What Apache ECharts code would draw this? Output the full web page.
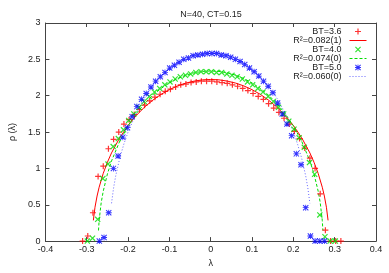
<!DOCTYPE html>
<html><head><meta charset="utf-8">
<script src="https://cdn.jsdelivr.net/npm/echarts@6/dist/echarts.min.js"></script>
<style>html,body{margin:0;padding:0;background:#fff}#c{width:389px;height:273px}</style>
</head><body><div id="c"></div>
<script>
// ---- data ----
const titleText = 'N=40, CT=0.15';
const xTicks = [-0.4,-0.3,-0.2,-0.1,0,0.1,0.2,0.3,0.4];
const yTicks = [0,0.5,1,1.5,2,2.5,3];

const redLam = [-0.31,-0.2975,-0.285,-0.2725,-0.26,-0.2475,-0.235,-0.2225,-0.21,-0.1975,-0.185,-0.1725,-0.16,-0.1475,-0.135,-0.1225,-0.11,-0.0975,-0.085,-0.0725,-0.06,-0.0475,-0.035,-0.0225,-0.01,0.0025,0.015,0.0275,0.04,0.0525,0.065,0.0775,0.09,0.1025,0.115,0.1275,0.14,0.1525,0.165,0.1775,0.19,0.2025,0.215,0.2275,0.24,0.2525,0.265,0.2775,0.29,0.3025,0.315];
const redRho = [0,0.07,0.39,0.89,1.03,1.27,1.40,1.50,1.61,1.67,1.74,1.81,1.87,1.93,1.98,2.02,2.06,2.09,2.12,2.15,2.16,2.18,2.19,2.20,2.20,2.20,2.19,2.18,2.17,2.15,2.13,2.10,2.07,2.03,1.99,1.95,1.89,1.83,1.77,1.69,1.61,1.51,1.41,1.28,1.14,1.00,0.65,0.15,0,0,0];

const greenLam = [-0.2985,-0.286,-0.2735,-0.261,-0.2485,-0.236,-0.2235,-0.211,-0.1985,-0.186,-0.1735,-0.161,-0.1485,-0.136,-0.1235,-0.111,-0.0985,-0.086,-0.0735,-0.061,-0.0485,-0.036,-0.0235,-0.011,0.0015,0.014,0.0265,0.039,0.0515,0.064,0.0765,0.089,0.1015,0.114,0.1265,0.139,0.1515,0.164,0.1765,0.189,0.2015,0.214,0.2265,0.239,0.2515,0.264,0.2765,0.289,0.3015];
const greenRho = [0,0.04,0.30,0.86,1.06,1.30,1.41,1.53,1.66,1.75,1.84,1.92,1.99,2.05,2.10,2.15,2.19,2.23,2.26,2.28,2.30,2.32,2.33,2.33,2.33,2.32,2.32,2.30,2.28,2.26,2.23,2.19,2.15,2.10,2.05,1.99,1.92,1.84,1.75,1.65,1.54,1.42,1.29,1.08,0.92,0.36,0.06,0,0];

const blueLam = [-0.2695,-0.25815,-0.2468,-0.23545,-0.2241,-0.21275,-0.2014,-0.19005,-0.1787,-0.16735,-0.156,-0.14465,-0.1333,-0.12195,-0.1106,-0.09925,-0.0879,-0.07655,-0.0652,-0.05385,-0.0425,-0.03115,-0.0198,-0.00845,0.0029,0.01425,0.0256,0.03695,0.0483,0.05965,0.071,0.08235,0.0937,0.10505,0.1164,0.12775,0.1391,0.15045,0.1618,0.17315,0.1845,0.19585,0.2072,0.21855,0.2299,0.24125,0.2526,0.26395,0.2753];
const blueRho = [0,0.05,0.39,1.00,1.17,1.43,1.56,1.71,1.85,1.95,2.03,2.12,2.20,2.26,2.32,2.38,2.42,2.46,2.50,2.52,2.55,2.56,2.57,2.58,2.58,2.58,2.56,2.55,2.53,2.50,2.47,2.43,2.38,2.33,2.27,2.20,2.13,2.04,1.90,1.75,1.61,1.45,1.20,1.05,0.46,0.07,0,0,0];

const redFitLam = [-0.284,-0.28,-0.275,-0.27,-0.26,-0.25,-0.24,-0.22,-0.2,-0.18,-0.16,-0.14,-0.12,-0.1,-0.08,-0.06,-0.04,-0.02,0,0.02,0.04,0.06,0.08,0.1,0.12,0.14,0.16,0.18,0.2,0.22,0.24,0.25,0.26,0.27,0.275,0.28,0.284];
const redFitRho = [0.285,0.466,0.620,0.741,0.932,1.084,1.213,1.423,1.591,1.729,1.844,1.939,2.019,2.083,2.135,2.174,2.201,2.218,2.223,2.218,2.201,2.174,2.135,2.083,2.019,1.939,1.844,1.729,1.591,1.423,1.213,1.084,0.932,0.741,0.620,0.466,0.285];

const greenFitLam = [-0.2715,-0.27,-0.265,-0.26,-0.25,-0.24,-0.22,-0.2,-0.18,-0.16,-0.14,-0.12,-0.1,-0.08,-0.06,-0.04,-0.02,0,0.02,0.04,0.06,0.08,0.1,0.12,0.14,0.16,0.18,0.2,0.22,0.24,0.25,0.26,0.265,0.27,0.2715];
const greenFitRho = [0.146,0.285,0.529,0.688,0.923,1.102,1.376,1.586,1.755,1.893,2.007,2.100,2.176,2.237,2.283,2.315,2.334,2.340,2.334,2.315,2.283,2.237,2.176,2.100,2.007,1.893,1.755,1.586,1.376,1.102,0.923,0.688,0.529,0.285,0.146];

const blueFitLam = [-0.24,-0.235,-0.23,-0.22,-0.21,-0.2,-0.18,-0.16,-0.14,-0.12,-0.1,-0.08,-0.06,-0.04,-0.02,0,0.02,0.04,0.06,0.08,0.1,0.12,0.14,0.16,0.18,0.2,0.21,0.22,0.23,0.235,0.24];
const blueFitRho = [0.520,0.733,0.894,1.143,1.338,1.500,1.763,1.968,2.133,2.266,2.373,2.456,2.520,2.564,2.590,2.599,2.590,2.564,2.520,2.456,2.373,2.266,2.133,1.968,1.763,1.500,1.338,1.143,0.894,0.733,0.520];

const names = ['BT=3.6','R\u00b2=0.082(1)','BT=4.0','R\u00b2=0.074(0)','BT=5.0','R\u00b2=0.060(0)'];
const colors = ['#ff0000','#00dd00','#0000ff'];

// ---- chart ----
const zip = (a, b) => a.map((v, i) => [v, b[i]]);
const PLUS = 'path://M0,4H10V6H0Z M4,0H6V10H4Z';
const CROSS = 'path://M0,1.4L1.4,0L10,8.6L8.6,10Z M8.6,0L10,1.4L1.4,10L0,8.6Z';
const STAR = 'path://M0,4.3H10V5.7H0Z M4.3,0H5.7V10H4.3Z M0,1.2L1.2,0L10,8.8L8.8,10Z M8.8,0L10,1.2L1.2,10L0,8.8Z';
const FONT = 'Liberation Sans';
const axisCommon = {
  type: 'value', min: -0.4, max: 0.4, interval: 0.1,
  axisLine: {show: true, onZero: false, lineStyle: {color: '#444', width: 1}},
  axisTick: {show: true, inside: true, length: 4, lineStyle: {color: '#444'}},
  splitLine: {show: false}
};
const yCommon = {
  type: 'value', min: 0, max: 3, interval: 0.5,
  axisLine: {show: true, onZero: false, lineStyle: {color: '#444', width: 1}},
  axisTick: {show: true, inside: true, length: 4, lineStyle: {color: '#444'}},
  splitLine: {show: false}
};
const lineSeries = (name, lam, rho, color, type) => ({
  name, type: 'line', data: zip(lam, rho), symbol: 'none', showSymbol: false,
  lineStyle: {color, width: 1, type}, itemStyle: {color, opacity: 0}, z: 3
});
const chart = echarts.init(document.getElementById('c'), null, {renderer: 'canvas'});
chart.setOption({
  animation: false,
  backgroundColor: '#fff',
  title: {text: titleText, left: 206, top: 5, textAlign: 'center',
    textStyle: {fontFamily: FONT, fontSize: 9, fontWeight: 'normal', color: '#222'}},
  grid: {left: 37, right: 13, top: 23, bottom: 25, containLabel: false},
  legend: {
    orient: 'vertical', right: 22, top: 27, align: 'right', padding: 0,
    itemGap: 0, itemWidth: 17, itemHeight: 6, selectedMode: false,
    lineStyle: {width: 1},
    textStyle: {fontFamily: FONT, fontSize: 9, color: '#222', lineHeight: 7.3, padding: [0, 3, 0, 0]},
    data: names
  },
  xAxis: [
    Object.assign({}, axisCommon, {position: 'bottom', name: '\u03bb', nameLocation: 'middle', nameGap: 16,
      nameTextStyle: {fontFamily: FONT, fontSize: 9, color: '#222'},
      axisLabel: {fontFamily: FONT, fontSize: 9, color: '#222', margin: 4,
        formatter: v => xTicks.includes(+v.toFixed(1)) ? (Math.abs(v) < 1e-9 ? '0' : String(+v.toFixed(1))) : ''}}),
    Object.assign({}, axisCommon, {position: 'top', axisLabel: {show: false}})
  ],
  yAxis: [
    Object.assign({}, yCommon, {position: 'left', name: '\u03c1 (\u03bb)', nameLocation: 'middle', nameGap: 28,
      nameTextStyle: {fontFamily: FONT, fontSize: 9, color: '#222'},
      axisLabel: {fontFamily: FONT, fontSize: 9, color: '#222', margin: 5,
        formatter: v => yTicks.includes(v) ? String(v) : ''}}),
    Object.assign({}, yCommon, {position: 'right', axisLabel: {show: false}})
  ],
  series: [
    {name: names[0], type: 'scatter', data: zip(redLam, redRho), symbol: PLUS, symbolSize: 6,
      itemStyle: {color: colors[0]}, z: 3},
    lineSeries(names[1], redFitLam, redFitRho, colors[0], 'solid'),
    {name: names[2], type: 'scatter', data: zip(greenLam, greenRho), symbol: CROSS, symbolSize: 6,
      itemStyle: {color: colors[1]}, z: 3},
    lineSeries(names[3], greenFitLam, greenFitRho, colors[1], [3, 2]),
    {name: names[4], type: 'scatter', data: zip(blueLam, blueRho), symbol: STAR, symbolSize: 6,
      itemStyle: {color: colors[2]}, z: 3},
    lineSeries(names[5], blueFitLam, blueFitRho, '#6666ff', [1, 2])
  ]
});
</script></body></html>
